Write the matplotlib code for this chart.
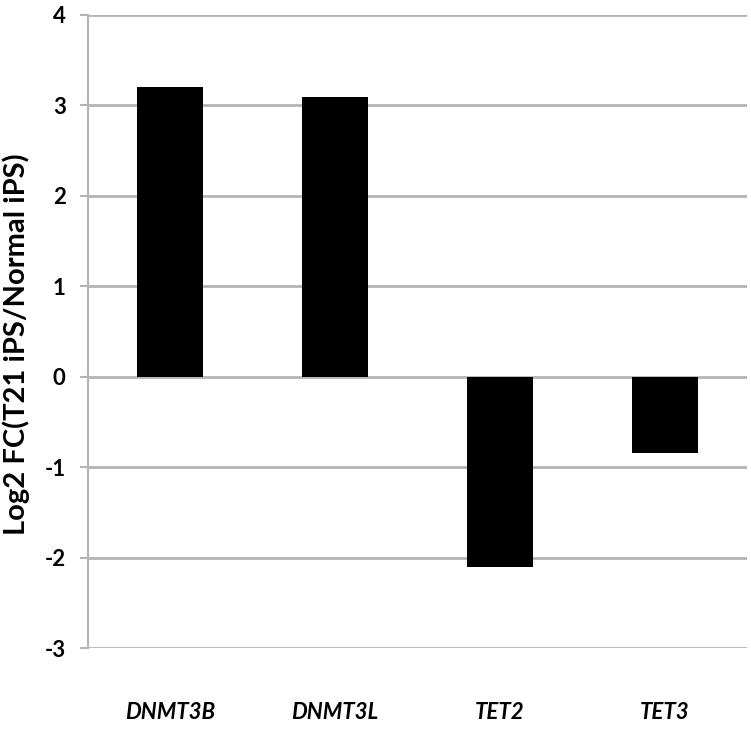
import matplotlib
matplotlib.use("Agg")
import matplotlib.pyplot as plt

categories = ["DNMT3B", "DNMT3L", "TET2", "TET3"]
values = [3.20, 3.09, -2.10, -0.84]
yticks = [-3, -2, -1, 0, 1, 2, 3, 4]
ylabel = "Log2 FC(T21 iPS/Normal iPS)"

fam = ["Lato", "DejaVu Sans"]
grid_c = "#b4b4b4"

fig = plt.figure(figsize=(7.51, 7.34), dpi=100)
ax = fig.add_axes([0.117, 0.117, 0.878, 0.863])

x = list(range(len(categories)))
ax.bar(x, values, width=0.4, color="black", zorder=3)

ax.set_xlim(-0.5, 3.5)
ax.set_ylim(-3, 4)
ax.set_yticks(yticks)
ax.set_yticklabels([str(t) for t in yticks], fontsize=16, fontweight="bold", family=fam)
ax.yaxis.grid(True, color=grid_c, linewidth=2, zorder=0)
ax.set_axisbelow(True)

for s in ["top", "right", "bottom"]:
    ax.spines[s].set_visible(False)
ax.spines["left"].set_color(grid_c)
ax.spines["left"].set_linewidth(1.5)
ax.spines["left"].set_bounds(-3, 4)
ax.tick_params(axis="y", length=6, width=1.5, color=grid_c, pad=10)

ax.set_xticks(x)
ax.set_xticklabels(categories, fontsize=16, fontweight="bold", style="italic", family=fam)
ax.tick_params(axis="x", length=0, pad=39)

ax.set_ylabel(ylabel, fontsize=21, fontweight="bold", family=fam, va="center")
ax.yaxis.set_label_coords(-0.109, 0.48)

fig.savefig("out.png", dpi=100)
